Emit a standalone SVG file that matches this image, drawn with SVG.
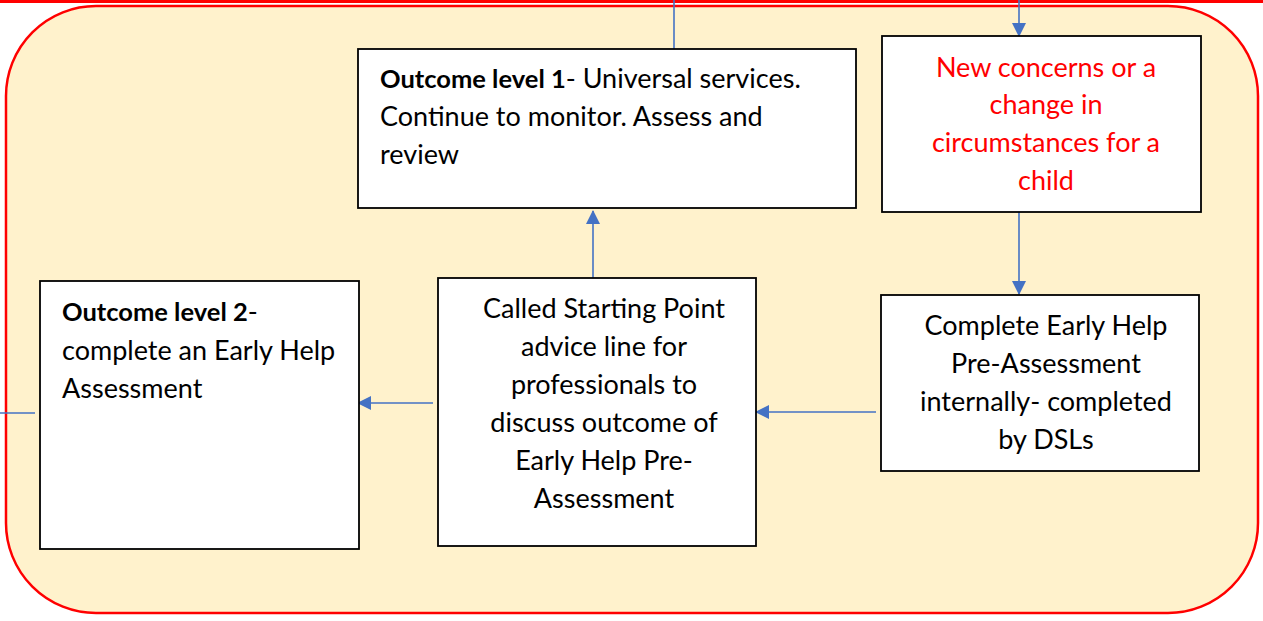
<svg xmlns="http://www.w3.org/2000/svg" width="1263" height="621" viewBox="0 0 1263 621">
<style>
.box{fill:#fff;stroke:#000;stroke-width:1.8}
.t{font-family:Lato,"Open Sans",sans-serif;font-size:27px;fill:#000}
.c{text-anchor:middle}
.red{fill:#ff0000}
.b{font-weight:bold;font-size:25.5px}
.ln{stroke:#4472C4;stroke-width:1.6;fill:none}
</style>
<defs>
<marker id="ah" markerWidth="14" markerHeight="14" refX="13" refY="7" orient="auto" markerUnits="userSpaceOnUse" viewBox="0 0 14 14">
<path d="M0,0 L14,7 L0,14 z" fill="#4472C4"/>
</marker>
</defs>
<rect width="1263" height="621" fill="#fff"/>
<line x1="0" y1="1.5" x2="1263" y2="1.5" stroke="#ff0000" stroke-width="3"/>
<rect x="6" y="6" width="1252" height="607" rx="90" ry="90" fill="#FFF2CC" stroke="#ff0000" stroke-width="2.5"/>
<g id="connectors">
<line class="ln" x1="674" y1="0" x2="674" y2="49"/>
<line class="ln" x1="1019" y1="0" x2="1019" y2="36" marker-end="url(#ah)"/>
<line class="ln" x1="593" y1="278" x2="593" y2="211" marker-end="url(#ah)"/>
<line class="ln" x1="1019" y1="212" x2="1019" y2="294" marker-end="url(#ah)"/>
<line class="ln" x1="876" y1="412" x2="756" y2="412" marker-end="url(#ah)"/>
<line class="ln" x1="433" y1="403" x2="358" y2="403" marker-end="url(#ah)"/>
<line class="ln" x1="0" y1="413" x2="35" y2="413"/>
</g>
<g id="n1">
<rect class="box" x="358" y="49" width="498" height="159"/>
<text class="t" x="380" y="88"><tspan class="b">Outcome level 1</tspan>- Universal services.</text>
<text class="t" x="380" y="126">Continue to monitor. Assess and</text>
<text class="t" x="380" y="164">review</text>
</g>
<g id="n2">
<rect class="box" x="882" y="36" width="319" height="176"/>
<text class="t c red" x="1046" y="77">New concerns or a</text>
<text class="t c red" x="1046" y="114">change in</text>
<text class="t c red" x="1046" y="152">circumstances for a</text>
<text class="t c red" x="1046" y="190">child</text>
</g>
<g id="n3">
<rect class="box" x="881" y="295" width="318" height="176"/>
<text class="t c" x="1046" y="335">Complete Early Help</text>
<text class="t c" x="1046" y="373">Pre-Assessment</text>
<text class="t c" x="1046" y="411">internally- completed</text>
<text class="t c" x="1046" y="449">by DSLs</text>
</g>
<g id="n4">
<rect class="box" x="438" y="278" width="318" height="268"/>
<text class="t c" x="604" y="318">Called Starting Point</text>
<text class="t c" x="604" y="356">advice line for</text>
<text class="t c" x="604" y="394">professionals to</text>
<text class="t c" x="604" y="432">discuss outcome of</text>
<text class="t c" x="604" y="470">Early Help Pre-</text>
<text class="t c" x="604" y="508">Assessment</text>
</g>
<g id="n5">
<rect class="box" x="40" y="281" width="319" height="268"/>
<text class="t" x="62" y="321"><tspan class="b">Outcome level 2</tspan>-</text>
<text class="t" x="62" y="360">complete an Early Help</text>
<text class="t" x="62" y="398">Assessment</text>
</g>
</svg>
